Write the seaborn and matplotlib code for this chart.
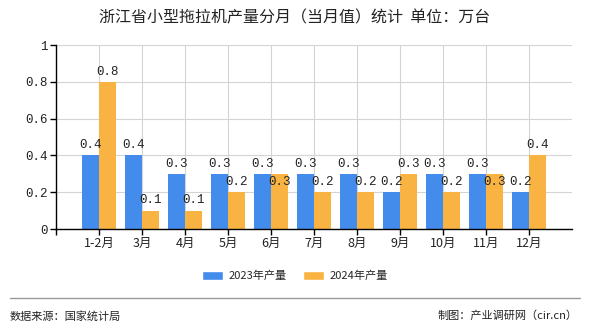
import matplotlib
matplotlib.use("Agg")
import matplotlib.pyplot as plt
import seaborn as sns
import pandas as pd
from matplotlib.patches import Patch

months = ["1-2月", "3月", "4月", "5月", "6月", "7月", "8月", "9月", "10月", "11月", "12月"]
v2023 = [0.4, 0.4, 0.3, 0.3, 0.3, 0.3, 0.3, 0.2, 0.3, 0.3, 0.2]
v2024 = [0.8, 0.1, 0.1, 0.2, 0.3, 0.2, 0.2, 0.3, 0.2, 0.3, 0.4]
series = ["2023年产量", "2024年产量"]
colors = ["#448cec", "#f9b342"]
yticks = [0, 0.2, 0.4, 0.6, 0.8, 1]
ytick_labels = ["0", "0.2", "0.4", "0.6", "0.8", "1"]

df = pd.DataFrame({
    "month": months * 2,
    "value": v2023 + v2024,
    "series": [series[0]] * len(months) + [series[1]] * len(months),
})

sns.set_theme(style="white")
plt.rcParams["font.family"] = ["Noto Sans CJK SC", "DejaVu Sans"]
mono = ["Liberation Mono", "Noto Sans CJK SC"]

fig = plt.figure(figsize=(5.9, 3.3), dpi=100)
ax = fig.add_axes([56 / 590, 1 - 229 / 330, (572 - 56) / 590, (229 - 45) / 330])

sns.barplot(data=df, x="month", y="value", hue="series", order=months,
            hue_order=series, palette=colors, width=0.8, saturation=1,
            linewidth=0, ax=ax, legend=False)

ax.set_xlim(-1, len(months))
ax.set_ylim(0, 1)
ax.set_yticks(yticks)
ax.set_yticklabels(ytick_labels, family=mono, fontsize=9)
ax.set_xticks(range(-1, len(months)))
ax.set_xticklabels([""] + months, fontsize=9)
ax.set_xlabel("")
ax.set_ylabel("")
ax.grid(True, color="#d4d4d4", linewidth=0.8)
ax.set_axisbelow(True)
for s in ["top", "right"]:
    ax.spines[s].set_visible(False)
for s in ["left", "bottom"]:
    ax.spines[s].set_color("#000000")
    ax.spines[s].set_linewidth(1)
ax.tick_params(axis="both", which="both", length=4, width=1, color="#000000",
               left=True, bottom=True, pad=2, labelcolor="#222222")

c23, c24 = ax.containers[0], ax.containers[1]
ax.bar_label(c23, labels=[f"{v:g}" for v in c23.datavalues], padding=3,
             fontsize=9, family=mono, color="#222222")
ax.bar_label(c24, labels=[f"{v:g}" if v != b else "" for v, b in zip(c24.datavalues, c23.datavalues)],
             padding=3, fontsize=9, family=mono, color="#222222")
ax.bar_label(c24, labels=[f"{v:g}" if v == b else "" for v, b in zip(c24.datavalues, c23.datavalues)],
             padding=-10, fontsize=9, family=mono, color="#222222")

fig.text(0.5, 1 - 18 / 330, "浙江省小型拖拉机产量分月（当月值）统计  单位：万台",
         ha="center", va="center", fontsize=11.5, color="#222222")

handles = [Patch(facecolor=c, label=l) for c, l in zip(colors, series)]
fig.legend(handles=handles, loc="center", bbox_to_anchor=(0.5, 1 - 276 / 330),
           ncol=2, frameon=False, fontsize=8, handlelength=1.9, handleheight=0.9,
           columnspacing=1.5, handletextpad=0.5)

fig.add_artist(plt.Line2D([10 / 590, 580 / 590], [1 - 298 / 330] * 2,
                          color="#999999", linewidth=1))
fig.text(10 / 590, 1 - 316 / 330, "数据来源：国家统计局", ha="left", va="center",
         fontsize=8, color="#222222")
fig.text(578 / 590, 1 - 316 / 330, "制图：产业调研网（cir.cn）", ha="right",
         va="center", fontsize=8, color="#222222")

fig.savefig("out.png", dpi=100)
